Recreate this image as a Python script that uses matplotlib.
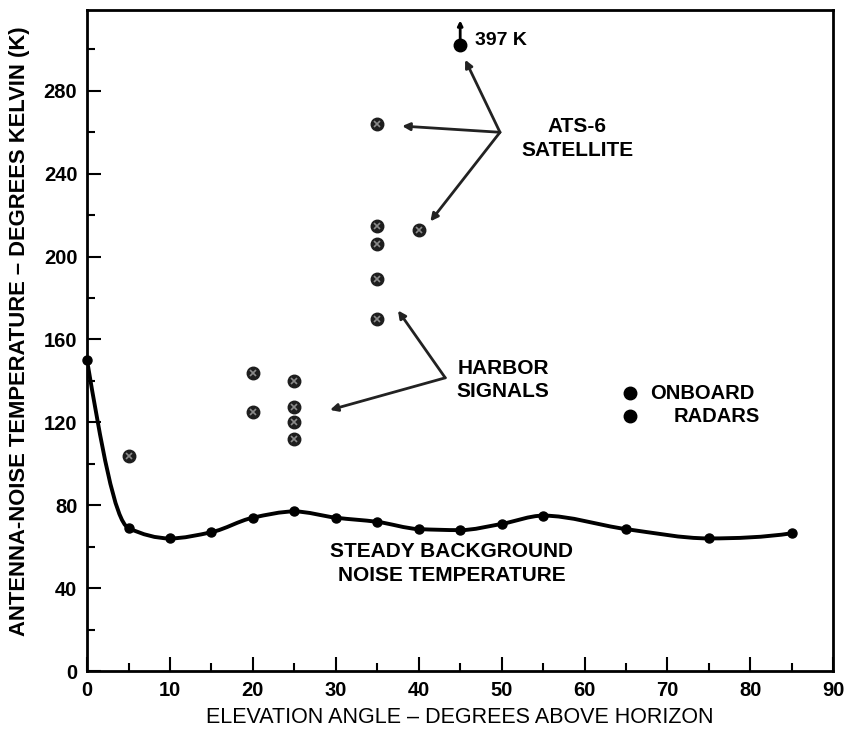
import matplotlib
matplotlib.use("Agg")
import matplotlib.pyplot as plt
from matplotlib.path import Path
from matplotlib.patches import PathPatch
from matplotlib.ticker import MultipleLocator
import numpy as np

plt.rcParams["font.family"] = ["Liberation Sans", "DejaVu Sans"]

# steady background noise temperature (curve + dots)
BG_ANGLE = [0, 5, 10, 15, 20, 25, 30, 35, 40, 45, 50, 55, 65, 75, 85]
BG_TEMP = [150, 69, 64, 67, 74, 77, 74, 72, 68.5, 68, 71, 75, 68.5, 64, 66.5]

# harbor / satellite signals (crossed circles)
SIG_ANGLE = [5, 20, 20, 25, 25, 25, 25, 35, 35, 35, 35, 35, 40]
SIG_TEMP = [104, 144, 125, 140, 127.5, 120, 112, 170, 189, 206, 215, 264, 213]

# off-scale satellite reading (397 K)
OFF_ANGLE, OFF_TEMP = 45, 302

# onboard radars key dots
RADAR_ANGLE = [65.5, 65.5]
RADAR_TEMP = [134, 123]


def pchip_path(x, y):
    """Shape-preserving cubic (PCHIP tangents) drawn as Bezier segments."""
    x = np.asarray(x, float); y = np.asarray(y, float)
    h = np.diff(x); s = np.diff(y) / h
    n = len(x); d = np.zeros(n)
    for i in range(1, n - 1):
        if s[i - 1] * s[i] > 0:
            w1 = 2 * h[i] + h[i - 1]; w2 = h[i] + 2 * h[i - 1]
            d[i] = (w1 + w2) / (w1 / s[i - 1] + w2 / s[i])
    def end(h0, h1, s0, s1):
        v = ((2 * h0 + h1) * s0 - h0 * s1) / (h0 + h1)
        if np.sign(v) != np.sign(s0):
            return 0.0
        if np.sign(s0) != np.sign(s1) and abs(v) > abs(3 * s0):
            return 3 * s0
        return v
    d[0] = end(h[0], h[1], s[0], s[1])
    d[-1] = end(h[-1], h[-2], s[-1], s[-2])
    verts = [(x[0], y[0])]; codes = [Path.MOVETO]
    for i in range(n - 1):
        verts += [(x[i] + h[i] / 3, y[i] + d[i] * h[i] / 3),
                  (x[i + 1] - h[i] / 3, y[i + 1] - d[i + 1] * h[i] / 3),
                  (x[i + 1], y[i + 1])]
        codes += [Path.CURVE4] * 3
    return Path(verts, codes)


fig = plt.figure(figsize=(8.5, 7.32), dpi=100)
ax = fig.add_axes([0.1024, 0.0833, 0.878, 0.903])

ax.add_patch(PathPatch(pchip_path(BG_ANGLE, BG_TEMP), fill=False, lw=2.8, color="black", zorder=2))
ax.plot(BG_ANGLE, BG_TEMP, "o", ms=6.5, color="black", zorder=3, clip_on=False)

ax.plot(SIG_ANGLE, SIG_TEMP, "o", ms=9, color="#1e1e1e", zorder=3)
ax.plot(SIG_ANGLE, SIG_TEMP, "x", ms=5, mew=1.2, color="#8a8a8a", zorder=4)

ax.plot([OFF_ANGLE], [OFF_TEMP], "o", ms=9, color="black", zorder=3)
ax.annotate("", xy=(OFF_ANGLE, OFF_TEMP + 12), xytext=(OFF_ANGLE, OFF_TEMP),
            arrowprops=dict(arrowstyle="-|>", lw=2, color="black", mutation_scale=7, shrinkA=0, shrinkB=0))
ax.text(46.8, 304.5, "397 K", fontsize=14, fontweight="bold", va="center", ha="left")

ax.plot(RADAR_ANGLE, RADAR_TEMP, "o", ms=9, color="black")
ax.text(74.2, 134, "ONBOARD", fontsize=14.5, fontweight="bold", va="center", ha="center")
ax.text(75.9, 123, "RADARS", fontsize=14.5, fontweight="bold", va="center", ha="center")

arrow = dict(arrowstyle="-|>", lw=2, color="#222222", mutation_scale=11, shrinkA=0, shrinkB=0)
ats_vertex = (49.8, 260)
for tip in [(45.6, 295), (38.0, 263), (41.4, 217)]:
    ax.annotate("", xy=tip, xytext=ats_vertex, arrowprops=arrow)
ax.text(59.1, 257, "ATS-6\nSATELLITE", fontsize=15, fontweight="bold", ha="center", va="center", linespacing=1.35)

harbor_vertex = (43.2, 141.5)
for tip in [(37.5, 174), (29.3, 126)]:
    ax.annotate("", xy=tip, xytext=harbor_vertex, arrowprops=arrow)
ax.text(50.2, 140.5, "HARBOR\nSIGNALS", fontsize=15, fontweight="bold", ha="center", va="center", linespacing=1.3)

ax.text(44, 52, "STEADY BACKGROUND\nNOISE TEMPERATURE", fontsize=15, fontweight="bold",
        ha="center", va="center", linespacing=1.3)

ax.set_xlim(0, 90)
ax.set_ylim(0, 319)
ax.xaxis.set_major_locator(MultipleLocator(10))
ax.xaxis.set_minor_locator(MultipleLocator(5))
ax.yaxis.set_minor_locator(MultipleLocator(20))
ax.set_yticks(range(0, 281, 40))
ax.tick_params(which="major", direction="in", length=10, width=1.5, labelsize=14.5, pad=7)
ax.tick_params(which="minor", direction="in", length=6, width=1.5)
for lab in ax.get_xticklabels() + ax.get_yticklabels():
    lab.set_fontweight("bold")
for sp in ax.spines.values():
    sp.set_linewidth(2)

ax.set_xlabel("ELEVATION ANGLE – DEGREES ABOVE HORIZON", fontsize=15.5, va="center")
ax.xaxis.set_label_coords(0.5, -0.071)
ax.set_ylabel("ANTENNA-NOISE TEMPERATURE – DEGREES KELVIN (K)", fontsize=15.8, fontweight="bold", va="center")
ax.yaxis.set_label_coords(-0.09, 0.514)

fig.savefig("out.png", dpi=100)
